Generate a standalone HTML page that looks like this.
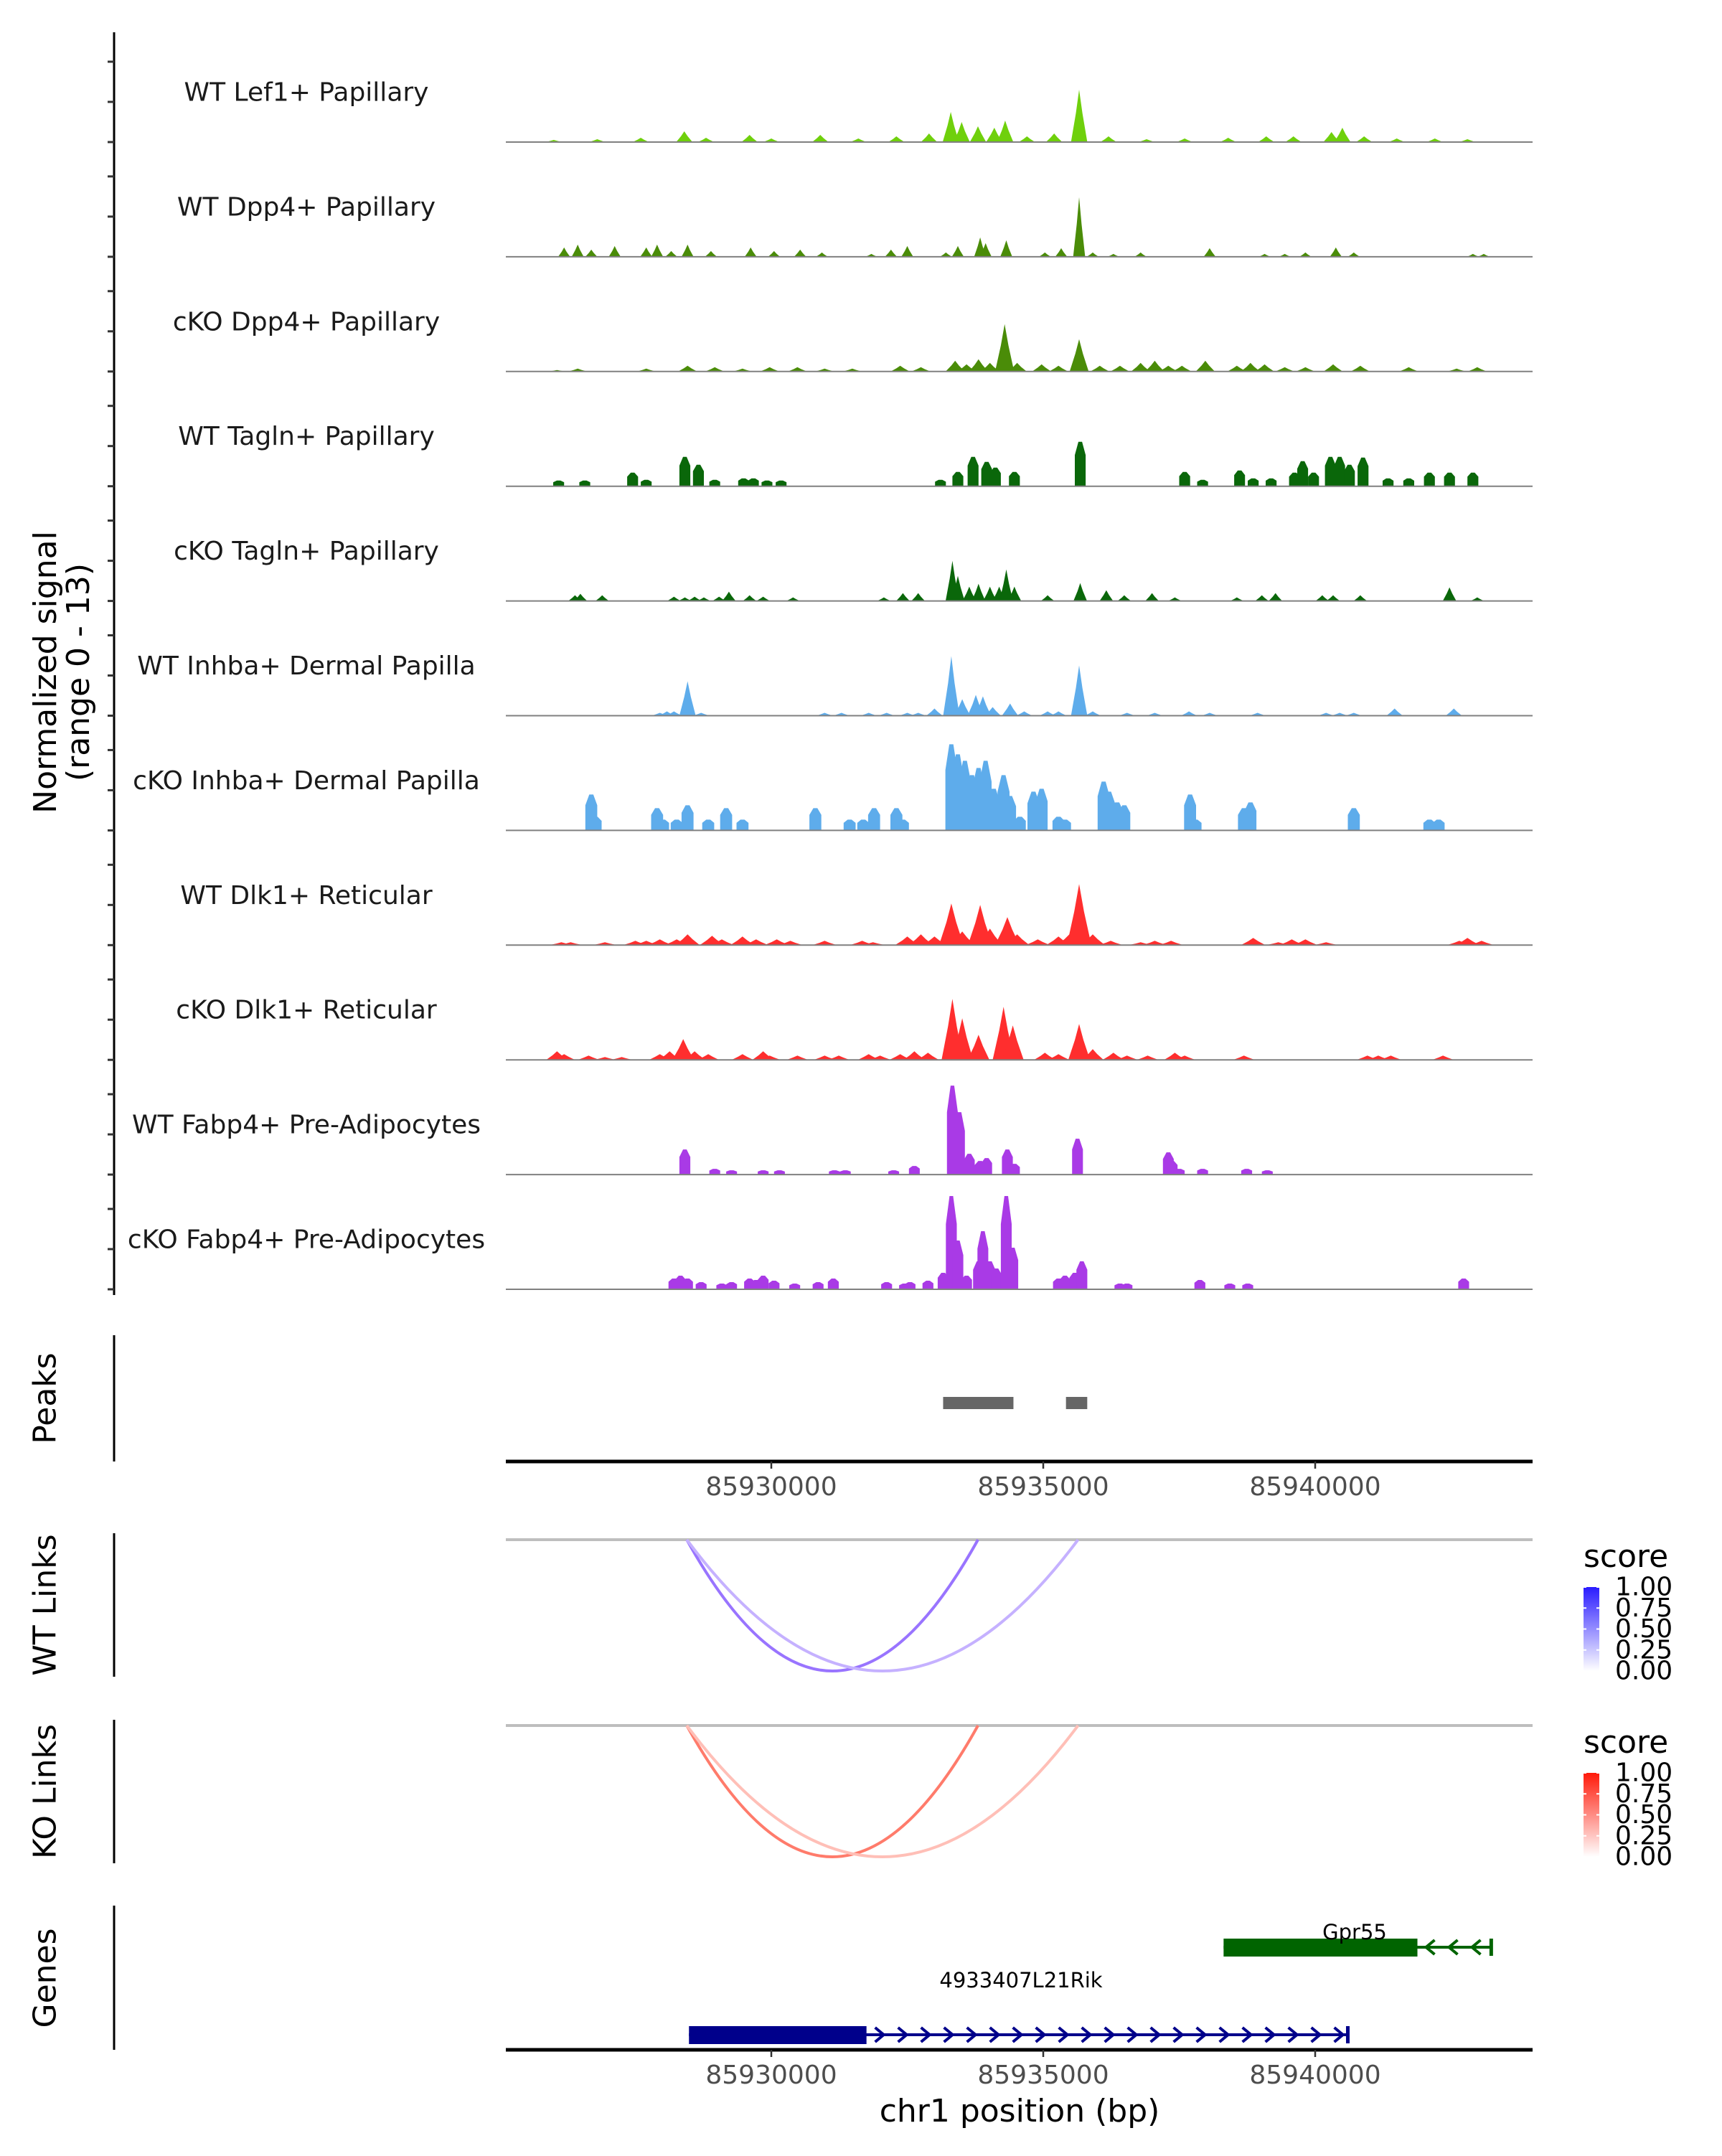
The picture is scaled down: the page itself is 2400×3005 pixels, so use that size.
<!DOCTYPE html>
<html><head><meta charset="utf-8"><style>
html,body{margin:0;padding:0;background:#fff}
svg text{font-family:"DejaVu Sans","Liberation Sans",sans-serif}
</style></head><body>
<svg id="fig" xmlns="http://www.w3.org/2000/svg" width="2400" height="3000" viewBox="0 0 2400 3000">
<rect width="2400" height="3000" fill="#fff"/>
<g id="tracks"></g>
<g id="lower"></g>
</svg>
<script>
// positions: kb offset from chr1:85,930,000 ; values: normalized signal (0-13)
const trackNames = ["WT Lef1+ Papillary","WT Dpp4+ Papillary","cKO Dpp4+ Papillary","WT Tagln+ Papillary","cKO Tagln+ Papillary","WT Inhba+ Dermal Papilla","cKO Inhba+ Dermal Papilla","WT Dlk1+ Reticular","cKO Dlk1+ Reticular","WT Fabp4+ Pre-Adipocytes","cKO Fabp4+ Pre-Adipocytes"];
const lef1WT_pos = [-4.0,-3.2,-2.4,-1.6,-1.2,-0.4,0,0.9,1.6,2.3,2.9,3.3,3.5,3.8,4.1,4.3,4.7,5.2,5.66,6.2,6.9,7.6,8.4,9.1,9.6,10.3,10.5,10.9,11.5,12.2,12.8];
const lef1WT_val = [0.3,0.4,0.6,1.5,0.6,1,0.5,1,0.5,0.8,1.2,4.2,2.8,2.2,2,3,0.8,1.2,7.3,0.8,0.4,0.5,0.6,0.8,0.8,1.4,2,0.8,0.5,0.5,0.4];
const dpp4WT_pos = [-3.81,-3.56,-3.31,-2.88,-2.30,-2.10,-1.84,-1.54,-1.11,-0.38,0.05,0.53,0.93,1.84,2.20,2.50,3.21,3.43,3.84,3.94,4.32,5.03,5.33,5.66,5.91,6.29,6.79,8.06,9.07,9.44,9.82,10.38,10.71,12.9,13.1];
const dpp4WT_val = [1.3,1.7,1,1.5,1.3,1.7,0.8,1.7,0.8,1.3,0.8,1,0.6,0.4,1,1.5,0.6,1.5,2.7,1.9,2.3,0.6,1.2,8.3,0.6,0.4,0.6,1.2,0.4,0.4,0.6,1.3,0.6,0.4,0.4];
const dpp4KO_pos = [-3.94,-3.56,-2.3,-1.54,-1.04,-0.53,-0.03,0.48,0.98,1.49,2.37,2.75,3.38,3.59,3.81,4.02,4.29,4.52,4.97,5.28,5.66,6.04,6.41,6.79,7.05,7.30,7.55,7.98,8.56,8.81,9.07,9.44,9.82,10.33,10.83,11.72,12.6,12.98];
const dpp4KO_val = [0.2,0.4,0.4,0.8,0.6,0.4,0.6,0.6,0.4,0.4,0.8,0.6,1.5,1,1.7,1.2,6.6,1.2,1,0.8,4.5,0.8,0.8,1.2,1.5,0.8,0.8,1.5,0.8,1.2,1,0.6,0.6,1,0.8,0.6,0.4,0.6];
const taglnWT_pos = [-3.91,-3.43,-2.55,-2.30,-1.59,-1.34,-1.04,-0.51,-0.33,-0.08,0.18,3.11,3.43,3.71,3.96,4.12,4.47,5.68,7.60,7.93,8.61,8.86,9.19,9.62,9.77,9.97,10.28,10.45,10.63,10.88,11.34,11.72,12.1,12.47,12.9];
const taglnWT_val = [0.8,0.8,1.9,0.9,4.1,3.0,0.9,1.1,1.1,0.8,0.8,0.9,2.0,4.1,3.4,2.6,2.0,6.2,2.0,0.9,2.2,1.1,1.1,1.9,3.5,1.9,4.1,4.1,3.0,4.0,1.1,1.1,1.9,1.9,1.9];
const taglnKO_pos = [-3.61,-3.51,-3.11,-1.79,-1.59,-1.41,-1.24,-0.96,-0.78,-0.40,-0.15,0.40,2.07,2.42,2.70,3.33,3.43,3.64,3.81,4.02,4.19,4.32,4.47,5.08,5.68,6.16,6.49,7.0,7.42,8.56,9.02,9.27,10.13,10.33,10.83,12.47,12.98];
const taglnKO_val = [0.8,1.0,0.8,0.6,0.5,0.6,0.5,0.6,1.3,0.8,0.6,0.5,0.5,1.1,1.1,5.6,3.5,2.0,2.4,2.0,2.0,4.4,2.0,0.8,2.5,1.5,0.8,1.1,0.5,0.5,0.8,1.1,0.8,0.8,0.8,1.9,0.5];
const inhbaWT_pos = [-2.05,-1.92,-1.79,-1.54,-1.29,0.98,1.29,1.79,2.12,2.5,2.7,3.0,3.31,3.51,3.76,3.89,4.07,4.39,4.65,5.08,5.28,5.66,5.91,6.54,7.05,7.68,8.06,8.94,10.2,10.45,10.71,11.46,12.55];
const inhbaWT_val = [0.4,0.6,0.6,4.8,0.4,0.4,0.4,0.4,0.4,0.4,0.4,1.0,8.3,2.3,2.9,2.7,1.2,1.7,0.6,0.6,0.6,7.0,0.6,0.4,0.4,0.6,0.4,0.4,0.4,0.4,0.4,1.0,1.0];
const inhbaKO_pos = [-3.31,-3.23,-2.10,-1.99,-1.74,-1.54,-1.16,-0.83,-0.53,0.81,1.44,1.69,1.89,2.30,2.42,3.31,3.43,3.56,3.69,3.81,3.94,4.09,4.27,4.39,4.57,4.82,4.97,5.28,5.40,6.11,6.21,6.36,6.49,7.70,7.80,8.69,8.81,10.71,12.1,12.27];
const inhbaKO_val = [5,1.9,3.1,1.5,1.5,3.5,1.5,3.1,1.5,3.1,1.5,1.5,3.1,3.1,1.5,12,10.6,9.7,7.7,8.7,9.7,5.8,7.7,4.8,1.9,5.4,5.8,1.9,1.5,6.8,5.4,3.9,3.5,5,1.5,3.1,3.9,3.1,1.5,1.5];
const dlk1WT_pos = [-3.86,-3.69,-3.06,-2.5,-2.3,-2.05,-1.74,-1.54,-1.09,-0.91,-0.53,-0.28,0.10,0.35,0.98,1.67,1.87,2.5,2.75,3.0,3.31,3.51,3.84,4.02,4.34,4.52,4.90,5.28,5.48,5.66,5.91,6.24,6.79,7.05,7.35,8.86,9.32,9.57,9.82,10.2,12.65,12.8,13.06];
const dlk1WT_val = [0.4,0.4,0.4,0.6,0.6,0.8,0.8,1.5,1.3,0.8,1.2,0.8,0.8,0.6,0.6,0.6,0.4,1.2,1.5,1.2,5.8,1.9,5.6,2.3,3.9,1.5,0.8,1.2,1.5,8.5,1.5,0.6,0.4,0.6,0.6,1.0,0.4,0.8,0.8,0.4,0.6,1.0,0.6];
const dlk1KO_pos = [-3.94,-3.81,-3.36,-3.06,-2.75,-2.05,-1.87,-1.62,-1.41,-1.16,-0.53,-0.15,-0.03,0.48,0.98,1.24,1.79,2.0,2.37,2.63,2.88,3.33,3.51,3.81,4.27,4.44,5.03,5.28,5.66,5.91,6.29,6.54,6.92,7.42,7.60,8.69,10.96,11.16,11.39,12.35];
const dlk1KO_val = [1.2,0.8,0.6,0.4,0.4,0.8,1.2,2.9,1.2,0.8,0.8,1.2,0.6,0.6,0.6,0.6,0.8,0.6,0.8,1.2,1.0,8.5,5.8,3.5,7.4,4.8,1.0,0.8,5.0,1.5,1.0,0.6,0.6,1.0,0.6,0.6,0.6,0.6,0.6,0.6];
const fabp4WT_pos = [-1.59,-1.04,-0.73,-0.15,0.15,1.16,1.36,2.25,2.63,3.33,3.46,3.64,3.84,3.96,4.34,4.47,5.63,7.30,7.37,7.5,7.93,8.74,9.12];
const fabp4WT_val = [3.5,0.8,0.6,0.6,0.6,0.6,0.6,0.6,1.2,12.4,8.7,2.9,1.9,2.3,3.5,1.5,5.0,3.1,1.9,0.8,0.8,0.8,0.6];
const fabp4KO_pos = [-1.79,-1.67,-1.54,-1.29,-0.91,-0.73,-0.40,-0.28,-0.15,0.05,0.43,0.86,1.14,2.12,2.45,2.55,2.88,3.16,3.31,3.43,3.59,3.81,3.89,4.02,4.14,4.32,4.44,5.28,5.40,5.58,5.71,6.41,6.54,7.88,8.43,8.76,12.73];
const fabp4KO_val = [1.5,1.9,1.5,1.0,0.8,1.0,1.5,1.3,1.9,1.2,0.8,1.0,1.5,1.0,0.8,1.0,1.2,2.3,13,6.8,1.9,3.9,8.1,3.9,2.9,13,5.8,1.5,1.9,2.3,3.9,0.8,0.8,1.3,0.8,0.8,1.5];

const peakStarts = [85933159, 85935418];
const peakEnds = [85934452, 85935809];
const linkStarts = [85928446, 85928446];
const linkEnds = [85933800, 85935640];
const wtScores = [0.62, 0.35];
const koScores = [0.62, 0.3];
const xTicks = [85930000, 85935000, 85940000];
const legendTicks = [1.00, 0.75, 0.50, 0.25, 0.00];
const geneNames = ["Gpr55", "4933407L21Rik"];
const geneStarts = [85938316, 85928486];
const geneEnds = [85943237, 85940600];
const cdsStarts = [85938316, 85928486];
const cdsEnds = [85941880, 85931750];
const geneStrand = [-1, 1];

const NS = "http://www.w3.org/2000/svg";
const X0 = 705, X1 = 2136;
const xBp = bp => 1075 + (bp - 85930000) * 0.0758;
const xKb = kb => xBp(85930000 + kb * 1000);
const yUnit = 10;
function mk(tag, attrs, parent){const e=document.createElementNS(NS,tag);for(const k in attrs)e.setAttribute(k,attrs[k]);parent.appendChild(e);return e;}

const tracksG = document.getElementById('tracks');
const lowerG = document.getElementById('lower');
const trackPos = [lef1WT_pos,dpp4WT_pos,dpp4KO_pos,taglnWT_pos,taglnKO_pos,inhbaWT_pos,inhbaKO_pos,dlk1WT_pos,dlk1KO_pos,fabp4WT_pos,fabp4KO_pos];
const trackVal = [lef1WT_val,dpp4WT_val,dpp4KO_val,taglnWT_val,taglnKO_val,inhbaWT_val,inhbaKO_val,dlk1WT_val,dlk1KO_val,fabp4WT_val,fabp4KO_val];
const colors = ["#6fd00c","#4a8c08","#4a8c08","#0a670a","#0a670a","#5eaceb","#5eaceb","#ff2e2e","#ff2e2e","#a93ae6","#a93ae6"];
const widths = [0.3,0.22,0.35,0.2,0.25,0.3,0.22,0.45,0.4,0.2,0.2];
const blocky = [false,false,false,true,false,false,true,false,false,true,true];

let ax = mk('line',{x1:159,y1:45,x2:159,y2:1805,stroke:'#000','stroke-width':3},tracksG);


let yt = mk('text',{x:0,y:0,'font-size':44,'text-anchor':'middle',transform:'translate(86,937) rotate(-90)'},tracksG);


mk('tspan',{x:0,dy:-8},yt).textContent='Normalized signal';
mk('tspan',{x:0,dy:46},yt).textContent='(range 0 - 13)';

for(let t=0;t<trackNames.length;t++){
  const b = 198 + t*159.9;
  const g = mk('g',{},tracksG);
  
  
  [0,56,112].forEach(d=>{ mk('line',{x1:150,y1:b-d,x2:159,y2:b-d,stroke:'#333','stroke-width':3},g); });
  const lab = mk('text',{x:427,y:b-69,'font-size':36,'text-anchor':'middle','dominant-baseline':'central',fill:'#1a1a1a'},g);
  
  
  lab.textContent = trackNames[t];
  const w = widths[t]*75.8;
  for(let i=0;i<trackPos[t].length;i++){
    const x = xKb(trackPos[t][i]), h = trackVal[t][i]*yUnit;
    let pts;
    if(blocky[t]) pts=[[x-w/2,b],[x-w/2,b-h*0.7],[x-w/6,b-h],[x+w/6,b-h],[x+w/2,b-h*0.7],[x+w/2,b]];
    else pts=[[x-w/2,b],[x-w/5,b-h*0.55],[x,b-h],[x+w/5,b-h*0.55],[x+w/2,b]];
    const p = mk('polygon',{points:pts.map(q=>q[0].toFixed(1)+','+q[1].toFixed(1)).join(' '),fill:colors[t]},g);
    
    
  }
  mk('line',{x1:X0,y1:b,x2:X1,y2:b,stroke:'#808080','stroke-width':2},g);
}

function panelAxis(y1,y2,title,cy,name){
  const l = mk('line',{x1:159,y1:y1,x2:159,y2:y2,stroke:'#000','stroke-width':3},lowerG);
  
  
  const t = mk('text',{x:0,y:0,'font-size':44,'text-anchor':'middle','dominant-baseline':'central',transform:'translate(63,'+cy+') rotate(-90)'},lowerG);
  
  
  t.textContent=title;
}
function xAxis(y,name){
  const g = mk('g',{},lowerG);
  
  
  mk('line',{x1:X0,y1:y,x2:X1,y2:y,stroke:'#000','stroke-width':5},g);
  xTicks.forEach(v=>{
    const x=xBp(v);
    mk('line',{x1:x,y1:y,x2:x,y2:y+10,stroke:'#333','stroke-width':2.5},g);
    const tx = mk('text',{x:x,y:y+47,'font-size':36,'text-anchor':'middle',fill:'#4d4d4d'},g);
    
    
    tx.textContent=v;
  });
}

panelAxis(1861,2037,'Peaks',1949,'peaks');
for(let i=0;i<peakStarts.length;i++){
  const r = mk('rect',{x:xBp(peakStarts[i]),y:1947,width:xBp(peakEnds[i])-xBp(peakStarts[i]),height:17,fill:'#666'},lowerG);
  
  
}
xAxis(2037,'peaks-x-axis');

function mix(s,c){return 'rgb('+c.map(v=>Math.round(255-s*(255-v))).join(',')+')';}
function linkPanel(top,axTop,axBot,scores,base,title,name,gradId,gradTop){
  panelAxis(axTop,axBot,title,(axTop+axBot)/2,name);
  mk('line',{x1:X0,y1:top,x2:X1,y2:top,stroke:'#bebebe','stroke-width':4},lowerG);
  const depth = 183;
  for(let i=0;i<linkStarts.length;i++){
    const a=xBp(linkStarts[i]), c=xBp(linkEnds[i]), m=(a+c)/2;
    const p = mk('path',{d:`M${a},${top} Q${m},${top+depth*2} ${c},${top}`,fill:'none',stroke:mix(scores[i],base),'stroke-width':4},lowerG);
    
    
  }
  const lg = mk('g',{},lowerG);
  
  
  const defs = mk('defs',{},lg);
  const gr = mk('linearGradient',{id:gradId,x1:0,y1:0,x2:0,y2:1},defs);
  mk('stop',{offset:0,'stop-color':gradTop},gr);
  mk('stop',{offset:1,'stop-color':'#ffffff'},gr);
  const ly = top+66;
  mk('text',{x:2207,y:ly-28,'font-size':44,fill:'#000'},lg).textContent='score';
  mk('rect',{x:2207,y:ly,width:22,height:117,fill:`url(#${gradId})`},lg);
  legendTicks.forEach(v=>{
    const yy = ly + (1-v)*117;
    mk('line',{x1:2207,y1:yy,x2:2211,y2:yy,stroke:'#fff','stroke-width':2},lg);
    mk('line',{x1:2225,y1:yy,x2:2229,y2:yy,stroke:'#fff','stroke-width':2},lg);
    mk('text',{x:2251,y:yy,'font-size':36,'dominant-baseline':'central',fill:'#000'},lg).textContent=v.toFixed(2);
  });
}
linkPanel(2146,2137,2337,wtScores,[90,31,255],'WT Links','wt-links','gWT','#2a1bff');
linkPanel(2405,2397,2597,koScores,[255,42,16],'KO Links','ko-links','gKO','#ff1a0a');

panelAxis(2656,2857,'Genes',2757,'genes');
const geneY = [2714, 2836];
const labelY = [2703, 2770];
for(let i=0;i<geneNames.length;i++){
  const col = i===0?'#006400':'#00008b';
  const g = mk('g',{},lowerG);
  
  
  const y=geneY[i], a=xBp(geneStarts[i]), c=xBp(geneEnds[i]);
  mk('line',{x1:a,y1:y,x2:c,y2:y,stroke:col,'stroke-width':4},g);
  mk('rect',{x:xBp(cdsStarts[i]),y:y-12,width:xBp(cdsEnds[i])-xBp(cdsStarts[i]),height:25,fill:col},g);
  const s0 = xBp(cdsEnds[i]);
  for(let x=s0+18;x<c-4;x+=32){
    const d = geneStrand[i]>0 ? `M${x-6},${y-10} L${x+6},${y} L${x-6},${y+10}` : `M${x+6},${y-10} L${x-6},${y} L${x+6},${y+10}`;
    mk('path',{d:d,fill:'none',stroke:col,'stroke-width':4},g);
  }
  mk('line',{x1:c,y1:y-12,x2:c,y2:y+12,stroke:col,'stroke-width':5},g);
  const lab = mk('text',{x:i===0?1888:1423,y:labelY[i],'font-size':29,'text-anchor':'middle',fill:'#000'},g);
  
  
  lab.textContent=geneNames[i];
}
xAxis(2857,'genes-x-axis');
const xt = mk('text',{x:1421,y:2957,'font-size':44,'text-anchor':'middle',fill:'#000'},lowerG);


xt.textContent='chr1 position (bp)';
</script>
</body></html>
